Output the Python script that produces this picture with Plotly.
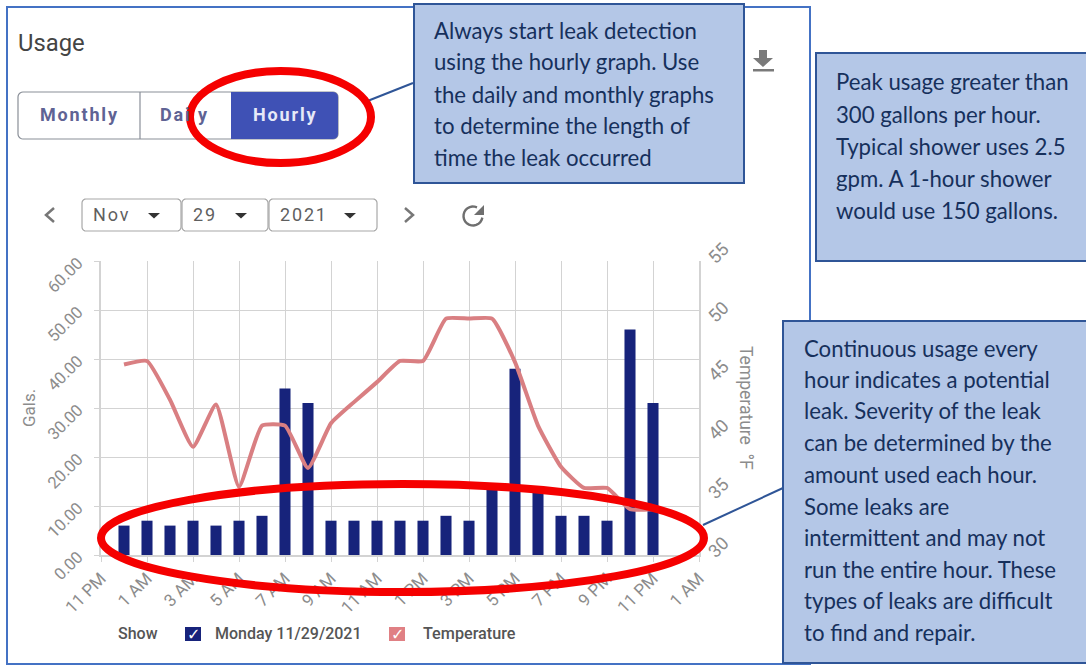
import math
import plotly.graph_objects as go

W, H = 1086, 665

# ---- data ----
hours = list(range(24, 48))
gallons = [6, 7, 6, 7, 6, 7, 8, 34, 31, 7, 7, 7, 7, 7, 8, 7, 14, 38, 13, 8, 8, 7, 46, 31]
temperature = [46.2, 46.5, 43.2, 39.2, 42.8, 35.8, 41, 41, 37.4, 41.2, 43, 44.7,
               46.5, 46.5, 50.1, 50.1, 50.1, 46.4, 41, 37.5, 35.7, 35.7, 33.9, 33.9]
tick_hours = [23, 25, 27, 29, 31, 33, 35, 37, 39, 41, 43, 45, 47, 49]
tick_labels = ["11 PM", "1 AM", "3 AM", "5 AM", "7 AM", "9 AM", "11 AM", "1 PM",
               "3 PM", "5 PM", "7 PM", "9 PM", "11 PM", "1 AM"]
gal_ticks = [0, 10, 20, 30, 40, 50, 60]
gal_labels = ["0.00", "10.00", "20.00", "30.00", "40.00", "50.00", "60.00"]
temp_ticks = [30, 35, 40, 45, 50, 55]

box_top_lines = ["Always start leak detection", "using the hourly graph. Use",
                 "the daily and monthly graphs", "to determine the length of",
                 "time the leak occurred"]
box_right_lines = ["Peak usage greater than", "300 gallons per hour.",
                   "Typical shower uses 2.5", "gpm. A 1-hour shower",
                   "would use 150 gallons."]
box_low_lines = ["Continuous usage every", "hour indicates a potential",
                 "leak. Severity of the leak", "can be determined by the",
                 "amount used each hour.", "Some leaks are",
                 "intermittent and may not", "run the entire hour. These",
                 "types of leaks are difficult", "to find and repair."]

# ---- colours ----
NAVY = "#17237b"
PINK = "#d97f82"
RED = "#f50000"
BOX_FILL = "#b4c7e7"
BOX_LINE = "#2f5597"
FRAME = "#4472c4"
GRID = "#d3d3d3"
AXIS_TEXT = "#8c8c8c"
BOX_TEXT = "#16305c"


def px(x):
    return x / W


def py(y):
    return 1 - y / H


def rect(x0, y0, x1, y1, line=None, fill=None, width=1, layer="below"):
    return dict(type="rect", xref="paper", yref="paper", x0=px(x0), x1=px(x1),
                y0=py(y0), y1=py(y1), layer=layer,
                line=dict(color=line or "rgba(0,0,0,0)", width=width if line else 0),
                fillcolor=fill or "rgba(0,0,0,0)")


def poly(points, line=None, fill=None, width=1, close=False, layer="below"):
    d = "M " + " L ".join(f"{px(a):.5f},{py(b):.5f}" for a, b in points)
    if close:
        d += " Z"
    return dict(type="path", xref="paper", yref="paper", path=d, layer=layer,
                line=dict(color=line or "rgba(0,0,0,0)", width=width if line else 0),
                fillcolor=fill or "rgba(0,0,0,0)")


def rounded(x0, y0, x1, y1, r, line=None, fill=None, width=1, corners=(1, 1, 1, 1)):
    pts = []
    centers = [(x1 - r, y0 + r, -90), (x1 - r, y1 - r, 0), (x0 + r, y1 - r, 90), (x0 + r, y0 + r, 180)]
    sharp = [(x1, y0), (x1, y1), (x0, y1), (x0, y0)]
    for c, s, on in zip(centers, sharp, corners):
        if on:
            for k in range(6):
                a = math.radians(c[2] + 18 * k)
                pts.append((c[0] + r * math.cos(a), c[1] + r * math.sin(a)))
        else:
            pts.append(s)
    return poly(pts, line=line, fill=fill, width=width, close=True)


def ellipse(x0, y0, x1, y1, width):
    return dict(type="circle", xref="paper", yref="paper", x0=px(x0), x1=px(x1),
                y0=py(y0), y1=py(y1), layer="above",
                line=dict(color=RED, width=width), fillcolor="rgba(0,0,0,0)")


def text(x, y, s, size=14, color="#444", family="Roboto", anchor="left", angle=0, weight=None):
    font = dict(size=size, color=color, family=family)
    if weight:
        font["weight"] = weight
    return dict(xref="paper", yref="paper", x=px(x - 2 if anchor == "left" else x), y=py(y), text=s,
                showarrow=False, xanchor=anchor, yanchor="middle", textangle=angle, font=font)


def spaced(word):
    return "&#8202;".join(word)


shapes = []
annotations = []

# outer frame and callouts
shapes.append(rect(7, 7, 810, 664, line=FRAME, width=2))
shapes.append(poly([(365, 102), (413, 83)], line=BOX_LINE, width=2))
shapes.append(poly([(703, 525), (783, 488)], line=BOX_LINE, width=2))
shapes.append(rect(414, 4, 744, 183, line=BOX_LINE, fill=BOX_FILL, width=2))
shapes.append(rect(816, 53, 1090, 261, line=BOX_LINE, fill=BOX_FILL, width=2))
shapes.append(rect(783, 321, 1090, 663, line=BOX_LINE, fill=BOX_FILL, width=2))

for line_text, y in zip(box_top_lines, [30, 62, 94, 125, 157]):
    annotations.append(text(434, y, line_text, 22.2, BOX_TEXT, "Lato"))
for line_text, y in zip(box_right_lines, [82, 114, 146, 178, 210]):
    annotations.append(text(836, y, line_text, 22.2, BOX_TEXT, "Lato"))
for line_text, y in zip(box_low_lines, [348, 379, 411, 442, 474, 506, 537, 569, 600, 632]):
    annotations.append(text(804, y, line_text, 22.2, BOX_TEXT, "Lato"))

# header
annotations.append(text(18, 43, "Usage", 23.8, "#444444"))

# button group
shapes.append(rounded(18, 92, 338, 139, 5, line="#8a8f98", fill="#ffffff", width=1.2))
shapes.append(poly([(140, 92), (140, 139)], line="#8a8f98", width=1.2))
shapes.append(rounded(231, 92, 338, 139, 5, fill="#3f51b5", corners=(1, 1, 0, 0)))
annotations.append(text(79, 115, "<b>" + spaced("Monthly") + "</b>", 18, "#5f6394", anchor="center"))
annotations.append(text(160, 115, "<b>" + spaced("Dai") + "</b>", 18, "#5f6394"))
annotations.append(text(198, 115, "<b>y</b>", 18, "#5f6394"))
annotations.append(text(284, 115, "<b>" + spaced("Hourly") + "</b>", 18, "#e6e9f8", anchor="center"))

# download icon
shapes.append(poly([(759, 50), (767, 50), (767, 58), (773, 58), (763, 67), (753, 58), (759, 58)], fill="#7a7a7a", close=True))
shapes.append(rect(753, 69, 774, 71.5, fill="#7a7a7a"))

# date pickers
for x0, x1, label, tri in [(82, 181, "Nov", 154), (182, 268, "29", 241), (269, 377, "2021", 350)]:
    shapes.append(rounded(x0, 199, x1, 231, 4, line="#a8a8a8", width=1.2))
    annotations.append(text(x0 + 11, 214, spaced(label), 18, "#5f5f5f"))
    shapes.append(poly([(tri - 6, 213), (tri + 6, 213), (tri, 218.5)], fill="#333333", close=True))
shapes.append(poly([(54, 208), (46, 215), (54, 222)], line="#777777", width=2.5))
shapes.append(poly([(405, 208), (413, 215), (405, 222)], line="#777777", width=2.5))
arc = [(473 + 9.5 * math.cos(math.radians(a)), 216 + 9.5 * math.sin(math.radians(a)))
       for a in range(10, 305, 15)]
shapes.append(poly(arc, line="#6f6f6f", width=2.4))
shapes.append(poly([(484, 205), (484, 215), (474, 215)], fill="#6f6f6f", close=True))

# legend
annotations.append(text(118, 633, "Show", 16, "#555555", weight=500))
shapes.append(rect(185, 627, 201, 641, fill=NAVY))
annotations.append(text(193, 634, "<b>✓</b>", 16, "#ffffff", "DejaVu Sans", "center"))
annotations.append(text(215, 633, "Monday 11/29/2021", 16, "#555555", weight=500))
shapes.append(rect(389, 627, 405, 641, fill="#e08084"))
annotations.append(text(397, 634, "<b>✓</b>", 16, "#ffffff", "DejaVu Sans", "center"))
annotations.append(text(423, 633, "Temperature", 16.2, "#555555", weight=500))

# axis titles
annotations.append(text(29, 408, "Gals.", 17, AXIS_TEXT, anchor="center", angle=-90))
annotations.append(text(746, 408, "Temperature  °F", 17.5, AXIS_TEXT, anchor="center", angle=90))

# red ellipses
shapes.append(ellipse(190, 71, 371, 163, 8))
shapes.append(ellipse(101, 484, 704, 592, 8))

fig = go.Figure()
fig.add_trace(go.Bar(x=hours, y=gallons, name="Monday 11/29/2021", width=0.48,
                     marker=dict(color=NAVY, line=dict(width=0))))
fig.add_trace(go.Scatter(x=hours, y=temperature, name="Temperature", yaxis="y2", mode="lines",
                         line=dict(color=PINK, width=4, shape="spline", smoothing=0.45)))

fig.update_layout(
    width=W, height=H, margin=dict(l=0, r=0, t=0, b=0, pad=0, autoexpand=False),
    paper_bgcolor="white", plot_bgcolor="white", showlegend=False,
    shapes=shapes, annotations=annotations,
    xaxis=dict(domain=[px(101), px(699)], range=[23, 49], tickmode="array", automargin=False,
               tickvals=tick_hours, ticktext=tick_labels, tickangle=-45,
               tickfont=dict(family="Roboto", size=17, color=AXIS_TEXT),
               showgrid=True, gridcolor=GRID, gridwidth=1.2, zeroline=False,
               showline=True, linecolor=GRID, linewidth=1.5,
               ticks="outside", ticklen=5, tickcolor=GRID),
    yaxis=dict(domain=[py(555), py(261)], range=[0, 60], tickmode="array", automargin=False,
               tickvals=gal_ticks, ticktext=gal_labels, tickangle=-45, ticklabelstandoff=13,
               tickfont=dict(family="Roboto", size=16.5, color=AXIS_TEXT),
               showgrid=True, gridcolor=GRID, gridwidth=1.2, zeroline=False,
               showline=True, linecolor=GRID, linewidth=1.5,
               ticks="outside", ticklen=5, tickcolor=GRID),
    yaxis2=dict(overlaying="y", side="right", anchor="x", range=[30, 55], tickmode="array", automargin=False,
                tickvals=temp_ticks, tickangle=-45, ticklabelstandoff=5,
                tickfont=dict(family="Roboto", size=18, color=AXIS_TEXT),
                showgrid=False, zeroline=False, showline=True, linecolor=GRID, linewidth=1.5),
)

fig.write_html("out.html", config={"displayModeBar": False},
               post_script="document.body.style.margin='0';document.body.style.overflow='hidden';")
